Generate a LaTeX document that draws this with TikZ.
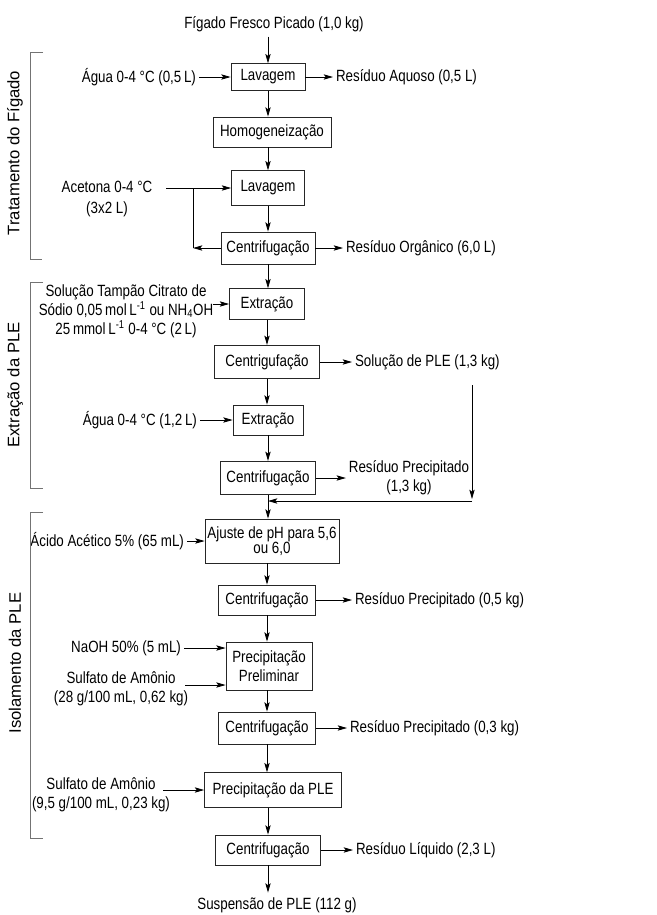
\documentclass[tikz,border=0pt]{standalone}
\usepackage{fontspec}
\setmainfont{Liberation Sans}[FakeStretch=0.82]
\newfontfamily\sidefont{Liberation Sans}
\usetikzlibrary{arrows.meta}
\tikzset{
  box/.style={draw=black!85, inner sep=1.5pt, minimum height=20pt},
  txt/.style={inner sep=2pt, align=center},
  fase/.style={rotate=90, inner sep=0pt, font=\sidefont\fontsize{12.5}{14.4}\selectfont},
  chave/.style={draw=black!55, line width=0.7pt},
}
\begin{document}
\begin{tikzpicture}[x=0.75pt, y=-0.75pt, line width=0.6pt,
    >={Stealth[length=7pt,width=4pt,inset=1.5pt]},
    font=\fontsize{12.2}{14.4}\selectfont]
    \useasboundingbox (0,0) rectangle (657,915);
    % main column
    \node (figado) at (274,24) {Fígado Fresco Picado (1,0 kg)};
    \node [box, minimum width=55.5pt] (lav1) at (268,77) {Lavagem};
    \node [box, minimum width=88.5pt, minimum height=22.5pt] (homog) at (272,132) {Homogeneização};
    \node [box, minimum width=54.75pt, minimum height=26pt] (lav2) at (268,188) {Lavagem};
    \node [box, minimum width=70.5pt, minimum height=24pt] (cent1) at (268,248) {Centrifugação};
    \node [box, minimum width=56.25pt, minimum height=23pt] (ext1) at (267,304) {Extração};
    \node [box, minimum width=78.75pt, minimum height=25pt] (centg) at (267,362) {Centrigufação};
    \node [box, minimum width=52.5pt, minimum height=22.5pt] (ext2) at (268,420) {Extração};
    \node [box, minimum width=71.25pt, minimum height=25pt] (cent2) at (268,478) {Centrifugação};
    \node [box, minimum width=100.5pt, minimum height=33pt, align=center] (ajuste) at (272,541) {Ajuste de pH para 5,6\\[-3pt]ou 6,0};
    \node [box, minimum width=72.75pt, minimum height=22.5pt] (cent3) at (267,600) {Centrifugação};
    \node [box, minimum width=64.5pt, minimum height=36pt, align=center] (prelim) at (269,666) {Precipitação\\Preliminar};
    \node [box, minimum width=72.75pt, minimum height=24pt] (cent4) at (267,728) {Centrifugação};
    \node [box, minimum width=102.75pt, minimum height=26pt] (precple) at (273,790) {Precipitação da PLE};
    \node [box, minimum width=78.75pt, minimum height=22.5pt] (cent5) at (268,850) {Centrifugação};
    \node (susp) at (277,905) {Suspensão de PLE (112 g)};
    % entradas e residuos
    \node [txt, anchor=east] (agua1) at (199,77) {Água 0-4 °C (0,5\,L)};
    \node [txt, anchor=west] (resaq) at (333,77) {Resíduo Aquoso (0,5 L)};
    \node [txt] (aceto) at (107,199) {Acetona 0-4 °C\\[2pt](3x2 L)};
    \coordinate (acin) at (166,188);
    \coordinate (rtop) at (193,188);
    \coordinate (rbot) at (193,248);
    \node [txt, anchor=west] (resorg) at (343,248) {Resíduo Orgânico (6,0 L)};
    \node [txt] (soluc) at (126,311) {Solução Tampão Citrato de\\Sódio 0,05\,mol\,L\textsuperscript{-1} ou NH\textsubscript{4}OH\\25\,mmol\,L\textsuperscript{-1} 0-4 °C (2\,L)};
    \coordinate (solin) at (213,304);
    \node [txt, anchor=west] (solple) at (352,362) {Solução de PLE (1,3 kg)};
    \coordinate (sdown) at (472,385);
    \coordinate (scanto) at (472,501);
    \coordinate (sjunta) at (268,501);
    \node [txt, anchor=east] (agua2) at (200,420) {Água 0-4 °C (1,2\,L)};
    \node [txt] (resprec1) at (409,478) {Resíduo Precipitado\\(1,3 kg)};
    \node [txt, anchor=east] (acido) at (187,541) {Ácido Acético 5\% (65 mL)};
    \node [txt, anchor=west] (resprec2) at (352,600) {Resíduo Precipitado (0,5 kg)};
    \node [txt, anchor=east] (naoh) at (184,648) {NaOH 50\% (5 mL)};
    \node [txt] (sulf1) at (121,689) {Sulfato de Amônio\\(28 g/100 mL, 0,62 kg)};
    \coordinate (sin1) at (185,685);
    \node [txt, anchor=west] (resprec3) at (347,728) {Resíduo Precipitado (0,3 kg)};
    \node [txt] (sulf2) at (101,795) {Sulfato de Amônio\\(9,5 g/100 mL, 0,23 kg)};
    \coordinate (sin2) at (163,790);
    \node [txt, anchor=west] (resliq) at (353,850) {Resíduo Líquido (2,3 L)};
    % etapas
    \draw [chave] (43,52) -- (30,52) -- (30,259) -- (42,259);
    \node [fase] (fase1) at (15,153) {Tratamento do Fígado};
    \draw [chave] (43,282) -- (30,282) -- (30,488) -- (43,488);
    \node [fase] (fase2) at (15,385) {Extração da PLE};
    \draw [chave] (43,512) -- (30,512) -- (30,838) -- (43,838);
    \node [fase] (fase3) at (15,663) {Isolamento da PLE};
    % setas
    \draw [->] (figado.south -| lav1) -- (lav1);
    \draw [->] (agua1) -- (lav1);
    \draw [->] (lav1) -- (resaq);
    \draw [->] (lav1) -- (lav1 |- homog.north);
    \draw [->] (homog.south -| lav2) -- (lav2);
    \draw [->] (acin) -- (lav2);
    \draw (rtop) -- (rbot);
    \draw [->] (cent1) -- (rbot);
    \draw [->] (lav2) -- (cent1);
    \draw [->] (cent1) -- (resorg);
    \draw [->] (cent1) -- (cent1 |- ext1.north);
    \draw [->] (solin) -- (ext1);
    \draw [->] (ext1) -- (centg);
    \draw [->] (centg) -- (solple);
    \draw [->, shorten >=1.5pt] (sdown) -- (scanto);
    \draw [->] (scanto) -- (sjunta);
    \draw [->] (centg) -- (centg |- ext2.north);
    \draw [->] (agua2) -- (ext2);
    \draw [->] (ext2) -- (cent2);
    \draw [->] (cent2) -- (resprec1);
    \draw [->] (cent2) -- (cent2 |- ajuste.north);
    \draw [->] (acido) -- (ajuste);
    \draw [->] (ajuste.south -| cent3) -- (cent3);
    \draw [->] (cent3) -- (resprec2);
    \draw [->] (cent3) -- (cent3 |- prelim.north);
    \draw [->] (naoh) -- (naoh -| prelim.west);
    \draw [->] (sin1) -- (sin1 -| prelim.west);
    \draw [->] (prelim.south -| cent4) -- (cent4);
    \draw [->] (cent4) -- (resprec3);
    \draw [->] (cent4) -- (cent4 |- precple.north);
    \draw [->] (sin2) -- (precple);
    \draw [->] (precple.south -| cent5) -- (cent5);
    \draw [->] (cent5) -- (resliq);
    \draw [->] (cent5) -- (cent5 |- susp.north);
\end{tikzpicture}
\end{document}
